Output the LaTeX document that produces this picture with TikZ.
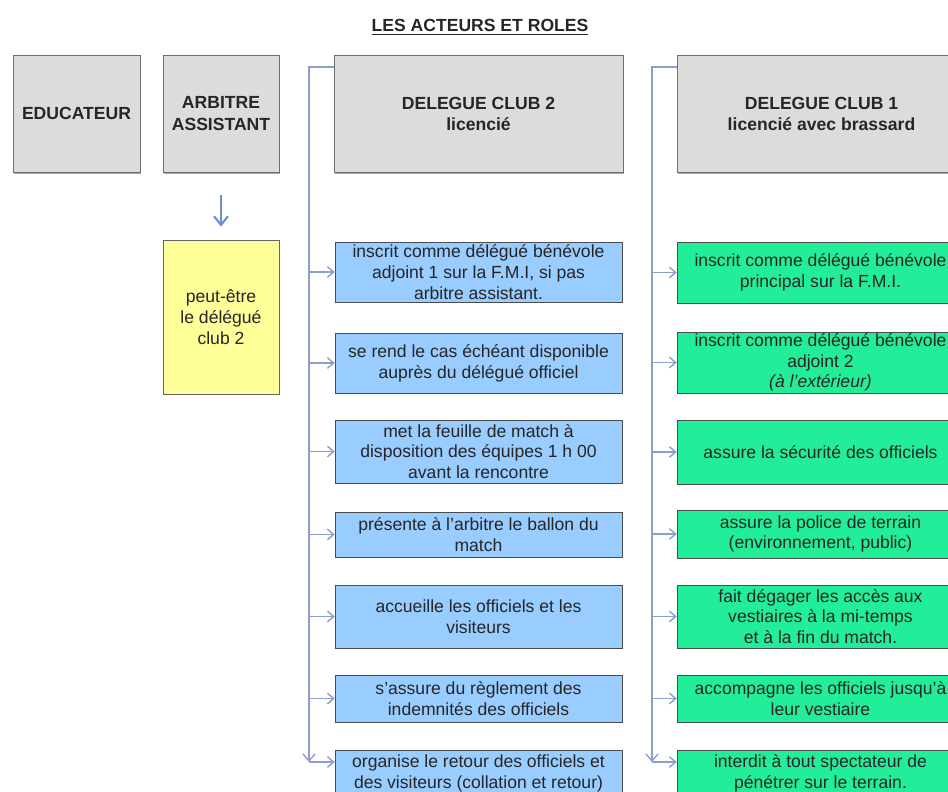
\documentclass[tikz,border=0pt]{standalone}
\usepackage{fontspec}
\setmainfont{Liberation Sans}
\usepackage{tikz}
\usetikzlibrary{positioning, shadows, arrows.meta}
\definecolor{HeadGrey}{HTML}{DCDCDC}
\definecolor{FrameGrey}{HTML}{6E6E6E}
\definecolor{ClubTwoBlue}{HTML}{99CCFF}
\definecolor{ClubOneGreen}{HTML}{22EE99}
\definecolor{NoteYellow}{HTML}{FFFF99}
\definecolor{LinkBlue}{HTML}{8C9FCB}
\definecolor{ArrowBlue}{HTML}{6A8FD6}
\tikzset{
  rolebox/.style={rectangle, draw=FrameGrey, fill=HeadGrey, minimum height=2.34cm, font=\fontsize{10}{12}\selectfont\bfseries, align=center, text=black!85, drop shadow={shadow xshift=0.8pt, shadow yshift=-1.2pt, opacity=0.7}},
  taskbox/.style={rectangle, draw=black!70, minimum width=5.74cm, inner ysep=0pt, font=\fontsize{10}{11.8}\selectfont, align=center, text=black!85},
  clubtwobox/.style={taskbox, fill=ClubTwoBlue},
  clubonebox/.style={taskbox, fill=ClubOneGreen},
  notebox/.style={rectangle, draw=black!60, fill=NoteYellow, minimum width=2.32cm, minimum height=3.08cm, font=\fontsize{10}{12}\selectfont, align=center, text=black!85},
  link/.style={-{Straight Barb[length=4pt,width=7pt]}, LinkBlue, thick},
  branch/.style={-{Straight Barb[length=3.5pt,width=6pt]}, LinkBlue, thick},
  bluearrow/.style={-{Straight Barb[length=5pt,width=8pt]}, ArrowBlue, very thick}
}
\begin{document}
\begin{tikzpicture}[x=0.02cm, y=-0.02cm]
  \useasboundingbox (0,0) rectangle (948,792);
  \clip (0,0) rectangle (948,792);

  \node[font=\fontsize{10}{12}\selectfont\bfseries, text=black!85] (title) at (480,27) {\underline{LES ACTEURS ET ROLES}};

  % actors
  \node[rolebox, minimum width=2.54cm] (edu) at (76.5,113.5) {EDUCATEUR};
  \node[rolebox, minimum width=2.32cm] (arb) at (221,113.5) {ARBITRE\\ASSISTANT};
  \node[rolebox, minimum width=5.78cm] (del2) at (478.5,113.5) {DELEGUE CLUB 2\\licencié};
  \node[rolebox, minimum width=5.78cm] (del1) at (821.5,113.5) {DELEGUE CLUB 1\\licencié avec brassard};

  \node[notebox] (peut) at (221,317) {peut-être\\le délégué\\club 2};
  \draw[bluearrow] ([yshift=-0.46cm]arb.south) -- ([yshift=0.26cm]peut.north);

  % roles club 2
  \node[clubtwobox, minimum height=1.2cm] (b1) at (478.5,272) {inscrit comme délégué bénévole\\adjoint 1 sur la F.M.I, si pas\\arbitre assistant.};
  \node[clubtwobox, minimum height=1.2cm] (b2) at (478.5,363) {se rend le cas échéant disponible\\auprès du délégué officiel};
  \node[clubtwobox, minimum height=1.26cm] (b3) at (478.5,451.5) {met la feuille de match à\\disposition des équipes 1 h 00\\avant la rencontre};
  \node[clubtwobox, minimum height=0.9cm] (b4) at (478.5,534.5) {présente à l'arbitre le ballon du\\match};
  \node[clubtwobox, minimum height=1.26cm] (b5) at (478.5,616.5) {accueille les officiels et les\\visiteurs};
  \node[clubtwobox, minimum height=0.94cm] (b6) at (478.5,698.5) {s'assure du règlement des\\indemnités des officiels};
  \node[clubtwobox, minimum height=0.94cm] (b7) at (478.5,773.5) {organise le retour des officiels et\\des visiteurs (collation et retour)};

  % roles club 1
  \node[clubonebox, minimum height=1.22cm] (g1) at (820.5,272.5) {inscrit comme délégué bénévole\\principal sur la F.M.I.};
  \node[clubonebox, minimum height=1.22cm] (g2) at (820.5,362.5) {inscrit comme délégué bénévole\\adjoint 2\\\textit{(à l'extérieur)}};
  \node[clubonebox, minimum height=1.28cm] (g3) at (820.5,452) {assure la sécurité des officiels};
  \node[clubonebox, minimum height=0.96cm] (g4) at (820.5,534) {assure la police de terrain\\(environnement, public)};
  \node[clubonebox, minimum height=1.26cm] (g5) at (820.5,616.5) {fait dégager les accès aux\\vestiaires à la mi-temps\\et à la fin du match.};
  \node[clubonebox, minimum height=0.94cm] (g6) at (820.5,698.5) {accompagne les officiels jusqu'à\\leur vestiaire};
  \node[clubonebox, minimum height=0.94cm] (g7) at (820.5,773.5) {interdit à tout spectateur de\\pénétrer sur le terrain.};

  % brackets
  \coordinate (top2) at (309,67);
  \coordinate (bot2) at (309,762);
  \coordinate (top1) at (652,67);
  \coordinate (bot1) at (652,762);
  \draw[link] (del2.west |- top2) -- (top2) -- (bot2);
  \draw[link] (del1.west |- top1) -- (top1) -- (bot1);
  \foreach \i in {1,...,6} {
    \draw[branch] (top2 |- b\i) -- (b\i.west);
    \draw[branch] (top1 |- g\i) -- (g\i.west);
  }
  \draw[branch] (bot2) -- (b7.west |- bot2);
  \draw[branch] (bot1) -- (g7.west |- bot1);
\end{tikzpicture}
\end{document}
